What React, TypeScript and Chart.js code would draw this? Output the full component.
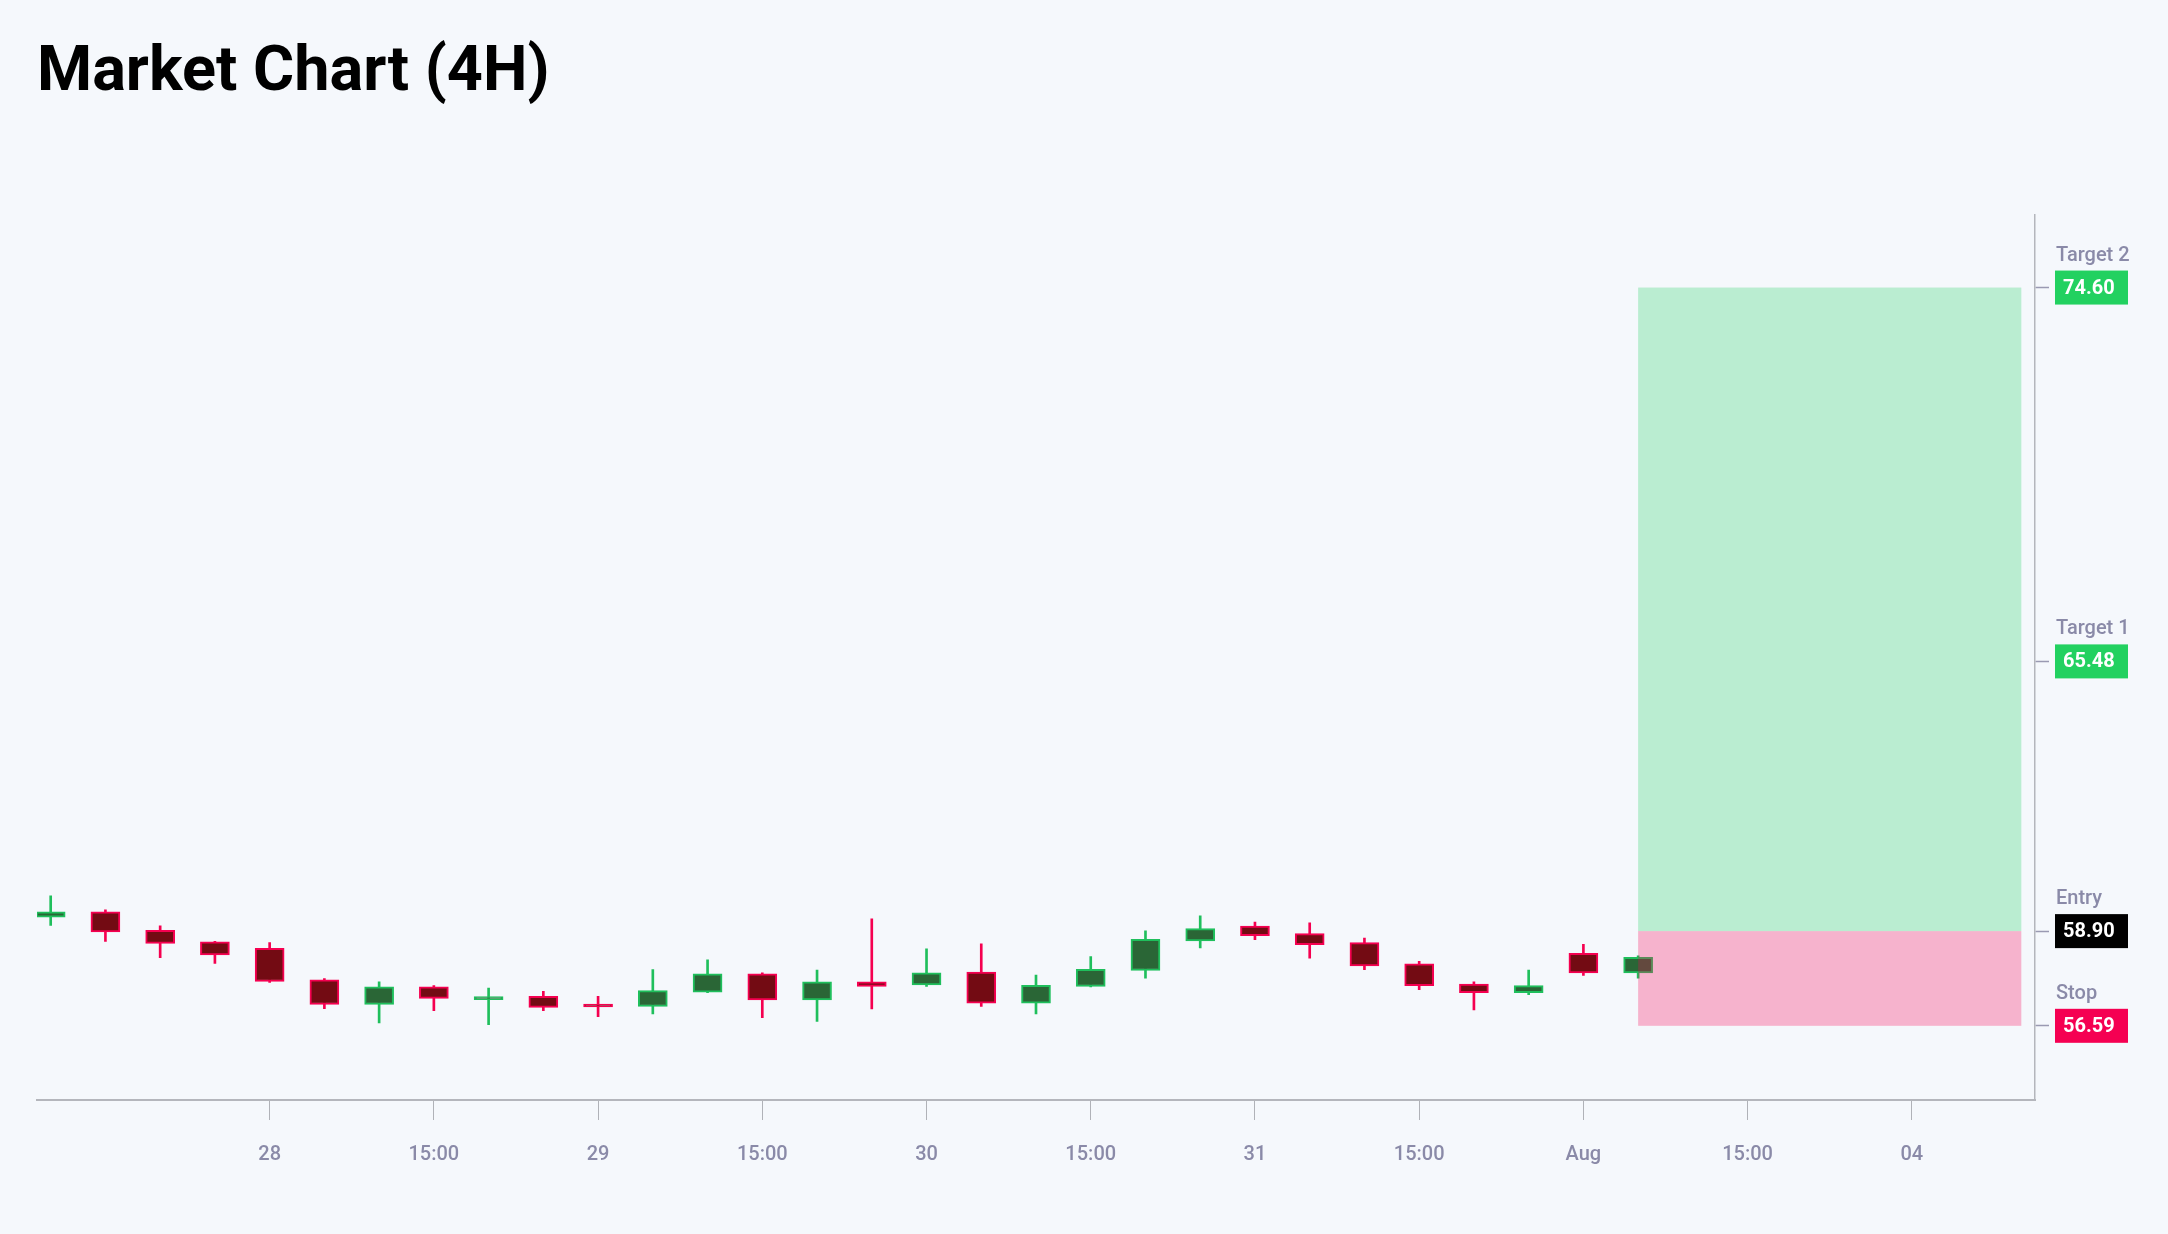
import { useEffect, useRef } from "react";
import { Chart, registerables } from "chart.js";

Chart.register(...registerables);

// 4H candles, index 0 = first bar on the left
const opens = [59.24, 59.37, 58.92, 58.64, 58.48, 57.71, 57.11, 57.54, 57.23, 57.31, 57.12, 57.06, 57.41, 57.86, 57.22, 57.66, 57.59, 57.9, 57.14, 57.55, 57.94, 58.66, 59.02, 58.84, 58.62, 58.1, 57.61, 57.4, 58.36, 57.88];
const highs = [59.76, 59.42, 59.03, 58.65, 58.62, 57.74, 57.66, 57.57, 57.51, 57.43, 57.31, 57.96, 58.2, 57.88, 57.95, 59.2, 58.47, 58.59, 57.83, 58.28, 58.91, 59.27, 59.12, 59.1, 58.73, 58.16, 57.66, 57.95, 58.58, 58.3];
const lows = [59.04, 58.65, 58.25, 58.11, 57.65, 57.01, 56.66, 56.96, 56.62, 56.96, 56.81, 56.88, 57.4, 56.79, 56.7, 57.0, 57.55, 57.06, 56.88, 57.54, 57.75, 58.49, 58.69, 58.24, 57.96, 57.47, 56.98, 57.35, 57.82, 57.75];
const closes = [59.37, 58.88, 58.6, 58.32, 57.67, 57.11, 57.54, 57.26, 57.3, 57.04, 57.05, 57.45, 57.86, 57.22, 57.66, 57.55, 57.88, 57.14, 57.58, 57.97, 58.7, 58.96, 58.79, 58.57, 58.05, 57.57, 57.4, 57.57, 57.88, 58.26];

const tickIndexes = [4, 7, 10, 13, 16, 19, 22, 25, 28, 31, 34];
const tickLabels = ["28", "15:00", "29", "15:00", "30", "15:00", "31", "15:00", "Aug", "15:00", "04"];

const levelNames = ["Target 2", "Target 1", "Entry", "Stop"];
const levelValues = [74.6, 65.48, 58.9, 56.59];
const levelColors = ["#22d160", "#22d160", "#000000", "#f50052"];

const entryIndex = 29;
const exitIndex = 36;

const BULL_LINE = "#1fbf5c";
const BULL_FILL = "#2a6636";
const BEAR_LINE = "#f50050";
const BEAR_FILL = "#730b13";
const LABEL_GRAY = "#8a8aa8";

const isBull = (i: number) => closes[i] >= opens[i];

const positionBox = {
    id: "positionBox",
    afterDatasetsDraw(chart: any) {
        const { ctx, scales } = chart;
        const x0 = scales.x.getPixelForValue(entryIndex);
        const x1 = scales.x.getPixelForValue(exitIndex);
        const yT2 = scales.y.getPixelForValue(levelValues[0]);
        const yEntry = scales.y.getPixelForValue(levelValues[2]);
        const yStop = scales.y.getPixelForValue(levelValues[3]);
        ctx.save();
        ctx.fillStyle = "rgba(34, 209, 96, 0.28)";
        ctx.fillRect(x0, yT2, x1 - x0, yEntry - yT2);
        ctx.fillStyle = "rgba(247, 0, 82, 0.28)";
        ctx.fillRect(x0, yEntry, x1 - x0, yStop - yEntry);
        ctx.restore();
    },
};

const levelTags = {
    id: "levelTags",
    afterDraw(chart: any) {
        const { ctx, scales } = chart;
        const left = scales.y.left + 20;
        ctx.save();
        levelValues.forEach((v, i) => {
            const y = scales.y.getPixelForValue(v);
            ctx.fillStyle = LABEL_GRAY;
            ctx.font = "500 20px Roboto";
            ctx.textAlign = "left";
            ctx.textBaseline = "alphabetic";
            ctx.fillText(levelNames[i], left + 1, y - 27);
            ctx.fillStyle = levelColors[i];
            ctx.fillRect(left, y - 17, 73, 34);
            ctx.fillStyle = "#ffffff";
            ctx.font = "bold 20px Roboto";
            ctx.textBaseline = "middle";
            ctx.fillText(v.toFixed(2), left + 8, y + 1);
        });
        ctx.restore();
    },
};

const MarketChart = () => {
    const chartRef = useRef<HTMLCanvasElement>(null);

    useEffect(() => {
        let chartInstance: Chart | undefined;
        if (chartRef.current) {
            chartInstance = new Chart(chartRef.current, {
                type: "bar",
                data: {
                    datasets: [
                        {
                            label: "body",
                            data: opens.map((o, i) => ({ x: i, y: [o, closes[i]] })) as any,
                            backgroundColor: opens.map((_, i) => (isBull(i) ? BULL_FILL : BEAR_FILL)),
                            borderColor: opens.map((_, i) => (isBull(i) ? BULL_LINE : BEAR_LINE)),
                            borderWidth: 2,
                            borderSkipped: false,
                            barThickness: 29,
                            grouped: false,
                        },
                        {
                            label: "wick",
                            data: lows.map((l, i) => ({ x: i, y: [l, highs[i]] })) as any,
                            backgroundColor: opens.map((_, i) => (isBull(i) ? BULL_LINE : BEAR_LINE)),
                            borderWidth: 0,
                            barThickness: 2,
                            grouped: false,
                        },
                    ],
                },
                options: {
                    animation: false,
                    responsive: true,
                    maintainAspectRatio: false,
                    layout: { padding: { left: 37, right: 0, top: 0, bottom: 0 } },
                    plugins: {
                        legend: { display: false },
                        tooltip: { enabled: false },
                        title: {
                            display: true,
                            text: "Market Chart (4H)",
                            align: "start",
                            color: "#000000",
                            font: { family: "Roboto", size: 63, weight: "bold" },
                            padding: { top: 36, bottom: 103 },
                        },
                    },
                    scales: {
                        x: {
                            type: "linear",
                            position: "bottom",
                            min: -0.25,
                            max: 36.25,
                            offset: false,
                            afterBuildTicks: (scale: any) => {
                                scale.ticks = tickIndexes.map((v) => ({ value: v }));
                            },
                            afterFit: (scale: any) => {
                                scale.height = 134;
                            },
                            ticks: {
                                autoSkip: false,
                                maxRotation: 0,
                                padding: 23,
                                color: LABEL_GRAY,
                                font: { family: "Roboto", size: 20, weight: 500 },
                                callback: (value: any) => tickLabels[tickIndexes.indexOf(Number(value))] ?? "",
                            },
                            grid: {
                                offset: false,
                                drawOnChartArea: false,
                                drawTicks: true,
                                tickLength: 20,
                                tickColor: "#b0b2b8",
                                tickWidth: 1,
                            },
                            border: { color: "#b4b6bc", width: 2 },
                        },
                        y: {
                            type: "linear",
                            position: "right",
                            min: 54.78,
                            max: 76.38,
                            afterBuildTicks: (scale: any) => {
                                scale.ticks = levelValues.map((v) => ({ value: v }));
                            },
                            afterFit: (scale: any) => {
                                scale.width = 133;
                            },
                            ticks: { display: false },
                            grid: {
                                drawOnChartArea: false,
                                drawTicks: true,
                                tickLength: 14,
                                tickColor: "#9a9ab2",
                                tickWidth: 1.5,
                            },
                            border: { color: "#b4b6bc", width: 1.5 },
                        },
                    },
                },
                plugins: [positionBox, levelTags],
            });
        }

        return () => {
            if (chartInstance) {
                chartInstance.destroy();
            }
        };
    }, []);

    return <canvas ref={chartRef} />;
};

export default function App() {
    return (
        <div style={{ position: "fixed", left: 0, top: 0, width: 2168, height: 1234, background: "#f5f8fc" }}>
            <MarketChart />
        </div>
    );
}
